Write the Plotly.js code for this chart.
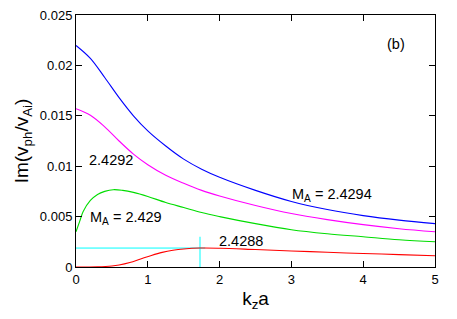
<!DOCTYPE html>
<html>
<head>
<meta charset="utf-8">
<script src="https://cdn.plot.ly/plotly-3.0.1.min.js"></script>
<style>html,body{margin:0;padding:0;background:#fff;}#chart{width:457px;height:319px;}</style>
</head>
<body>
<div id="chart"></div>
<script>
// M_A = 2.4294 (blue)
const blueX = [0, 0.2, 0.4, 0.6, 0.8, 1.0, 1.25, 1.5, 1.75, 2.0, 2.5, 3.0, 3.5, 4.0, 4.5, 5];
const blueY = [0.02198, 0.0207, 0.0188, 0.0168, 0.0150, 0.0135, 0.0120, 0.0107, 0.0097, 0.0089, 0.0076, 0.0065, 0.0057, 0.0051, 0.00465, 0.0043];
// M_A = 2.4292 (magenta)
const magX = [0, 0.2, 0.4, 0.6, 0.8, 1.0, 1.25, 1.5, 1.75, 2.0, 2.5, 3.0, 3.5, 4.0, 4.5, 5];
const magY = [0.0157, 0.01505, 0.0139, 0.0125, 0.0112, 0.01015, 0.0091, 0.0083, 0.0076, 0.00705, 0.0061, 0.0053, 0.0047, 0.0042, 0.0038, 0.0035];
// M_A = 2.429 (green)
const grnX = [0, 0.05, 0.1, 0.2, 0.3, 0.4, 0.52, 0.65, 0.8, 1.0, 1.25, 1.5, 1.75, 2.0, 2.5, 3.0, 3.5, 4.0, 4.5, 5];
const grnY = [0.0035, 0.0045, 0.0055, 0.0066, 0.0072, 0.0075, 0.00767, 0.0076, 0.0074, 0.0070, 0.0064, 0.0059, 0.0054, 0.0050, 0.0043, 0.0037, 0.0033, 0.0030, 0.0027, 0.0025];
// M_A = 2.4288 (red)
const redX = [0, 0.3, 0.5, 0.6, 0.75, 0.9, 1.05, 1.2, 1.35, 1.5, 1.727, 2.0, 2.5, 3.0, 3.5, 4.0, 4.5, 5];
const redY = [0, 0.00002, 0.0001, 0.0002, 0.00045, 0.0008, 0.00115, 0.00145, 0.00166, 0.00179, 0.00188, 0.00186, 0.00173, 0.00159, 0.00146, 0.00134, 0.00123, 0.00112];
// cyan marker lines (maximum of red curve)
const cyanHX = [0, 1.8];
const cyanHY = [0.00188, 0.00188];
const cyanVX = [1.727, 1.727];
const cyanVY = [0, 0.003];

const xTicks = [0, 1, 2, 3, 4, 5];
const yTicks = [0, 0.005, 0.01, 0.015, 0.02, 0.025];
const yTickText = ["0", "0.005", "0.01", "0.015", "0.02", "0.025"];

function tr(x, y, c) {
  return {x: x, y: y, mode: 'lines', line: {color: c, width: 1.1, shape: 'spline', smoothing: 1}, hoverinfo: 'skip', showlegend: false};
}
const data = [
  {x: cyanHX, y: cyanHY, mode: 'lines', line: {color: '#00ffff', width: 1}, showlegend: false},
  {x: cyanVX, y: cyanVY, mode: 'lines', line: {color: '#00ffff', width: 1}, showlegend: false},
  tr(blueX, blueY, '#0000ff'),
  tr(magX, magY, '#ff00ff'),
  tr(grnX, grnY, '#00dd00'),
  tr(redX, redY, '#ff0000')
];
const fam = 'Liberation Sans, Arial, sans-serif';
const fnt = {family: fam, size: 14.5, color: '#000'};
const layout = {
  width: 457, height: 319,
  margin: {l: 76, r: 22, t: 15, b: 52},
  paper_bgcolor: '#fff', plot_bgcolor: '#fff',
  font: fnt,
  xaxis: {
    range: [0, 5], tickvals: xTicks, ticks: 'inside', ticklen: 6, tickcolor: '#000',
    showline: true, linecolor: '#000', linewidth: 1, mirror: 'ticks', showgrid: false, zeroline: false,
    tickfont: {family: fam, size: 13}, title: {text: 'k<sub>z</sub>a', font: {family: fam, size: 19}, standoff: 6}
  },
  yaxis: {
    range: [0, 0.025], tickvals: yTicks, ticktext: yTickText, ticks: 'inside', ticklen: 6, tickcolor: '#000',
    showline: true, linecolor: '#000', linewidth: 1, mirror: 'ticks', showgrid: false, zeroline: false,
    tickfont: {family: fam, size: 13}, title: {text: 'Im(v<sub>ph</sub>/v<sub>Ai</sub>)', font: {family: fam, size: 19}, standoff: 6}
  },
  annotations: [
    {x: 4.46, y: 0.02215, text: '(b)', showarrow: false, font: fnt},
    {x: 0.49, y: 0.01065, text: '2.4292', showarrow: false, font: fnt},
    {x: 0.69, y: 0.0049, text: 'M<sub>A</sub> = 2.429', showarrow: false, font: fnt},
    {x: 3.56, y: 0.0071, text: 'M<sub>A</sub> = 2.4294', showarrow: false, font: fnt},
    {x: 2.30, y: 0.00254, text: '2.4288', showarrow: false, font: fnt}
  ]
};
Plotly.newPlot('chart', data, layout, {staticPlot: true, displayModeBar: false});
</script>
</body>
</html>
